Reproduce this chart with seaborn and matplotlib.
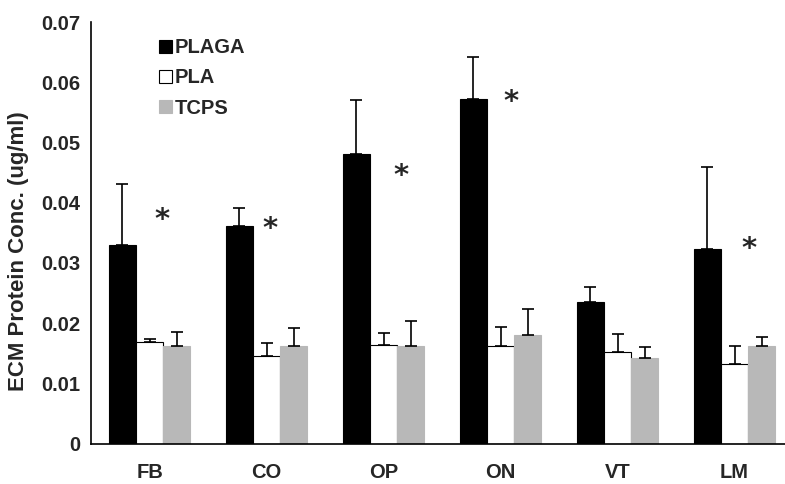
import pandas as pd
import numpy as np
import seaborn as sns
import matplotlib.pyplot as plt

# values
cells = ['FB', 'CO', 'OP', 'ON', 'VT', 'LM']
groups = ['PLAGA', 'PLA', 'TCPS']
plaga = [0.0330, 0.0362, 0.0481, 0.0573, 0.0236, 0.0323]
pla = [0.0169, 0.0146, 0.0164, 0.0163, 0.0153, 0.0133]
tcps = [0.0163, 0.0163, 0.0163, 0.0181, 0.0142, 0.0163]
plaga_err = [0.0101, 0.0030, 0.0090, 0.0069, 0.0024, 0.0137]
pla_err = [0.0004, 0.0021, 0.0020, 0.0030, 0.0029, 0.0029]
tcps_err = [0.0023, 0.0029, 0.0040, 0.0043, 0.0019, 0.0014]
star_y = [0.0376, 0.0361, 0.0450, 0.0572, None, 0.0329]
star_dx = [0.11, 0.03, 0.15, 0.09, 0.0, 0.12]
y_ticks = [0, 0.01, 0.02, 0.03, 0.04, 0.05, 0.06, 0.07]
y_tick_labels = ['0', '0.01', '0.02', '0.03', '0.04', '0.05', '0.06', '0.07']

df = pd.DataFrame({
    'cell': cells * 3,
    'group': np.repeat(groups, len(cells)),
    'value': plaga + pla + tcps,
})
errs = [plaga_err, pla_err, tcps_err]
colors = {'PLAGA': 'black', 'PLA': 'white', 'TCPS': '#b8b8b8'}
edges = {'PLAGA': 'black', 'PLA': 'black', 'TCPS': '#b8b8b8'}

sns.set_style('white')
plt.rcParams['font.family'] = ['Liberation Sans', 'DejaVu Sans']
plt.rcParams['font.weight'] = 'bold'

fig = plt.figure(figsize=(7.85, 4.84), dpi=100)
ax = fig.add_axes([91 / 785, 40.3 / 484, 702 / 785, 421.7 / 484])

sns.barplot(data=df, x='cell', y='value', hue='group', order=cells,
            hue_order=groups, palette=colors, width=0.7, gap=0,
            errorbar=None, ax=ax, legend=False)

for cont, g, err in zip(ax.containers, groups, errs):
    xs, ys = [], []
    for bar in cont:
        bar.set_edgecolor(edges[g])
        bar.set_linewidth(0.8)
        xs.append(bar.get_x() + bar.get_width() / 2)
        ys.append(bar.get_height())
    ax.errorbar(xs, ys, yerr=[np.zeros(len(err)), err], fmt='none',
                ecolor='black', elinewidth=1.2, capsize=4, capthick=1.2)

# significance stars
for i, (sy, dx) in enumerate(zip(star_y, star_dx)):
    if sy is not None:
        ax.text(i + dx, sy, '*', ha='center', va='center_baseline', fontsize=21,
                fontweight='bold', family='DejaVu Sans')

ax.set_xlim(-0.5, len(cells) - 0.5)
ax.set_ylim(0, 0.07)
ax.set_yticks(y_ticks)
ax.set_yticklabels(y_tick_labels, fontsize=14.5, fontweight='bold')
ax.set_xticks(range(len(cells)))
ax.set_xticklabels(cells, fontsize=14.5, fontweight='bold')
ax.set_xticks(np.arange(-0.5, len(cells), 1), minor=True)
ax.tick_params(axis='x', which='major', length=0, pad=14)
ax.tick_params(axis='x', which='minor', length=6, width=1.2, direction='out', color='black')
ax.tick_params(axis='y', length=5, width=1.2, direction='out', color='black', pad=3)
ax.set_xlabel('')
ax.set_ylabel('ECM Protein Conc. (ug/ml)', fontsize=16, fontweight='bold')
ax.yaxis.set_label_coords(-0.088, 0.456)

for side in ['top', 'right']:
    ax.spines[side].set_visible(False)
for side in ['left', 'bottom']:
    ax.spines[side].set_color('black')
    ax.spines[side].set_linewidth(1.2)

handles = [plt.Rectangle((0, 0), 1, 1, facecolor=colors[g], edgecolor=edges[g], lw=0.8)
           for g in groups]
ax.legend(handles, groups, loc='upper left', bbox_to_anchor=(0.082, 0.985),
          frameon=False, handlelength=0.65, handleheight=0.65, handletextpad=0.15,
          labelspacing=0.55, borderpad=0, prop={'size': 14.5, 'weight': 'bold'})

fig.savefig('out.png', dpi=100)
